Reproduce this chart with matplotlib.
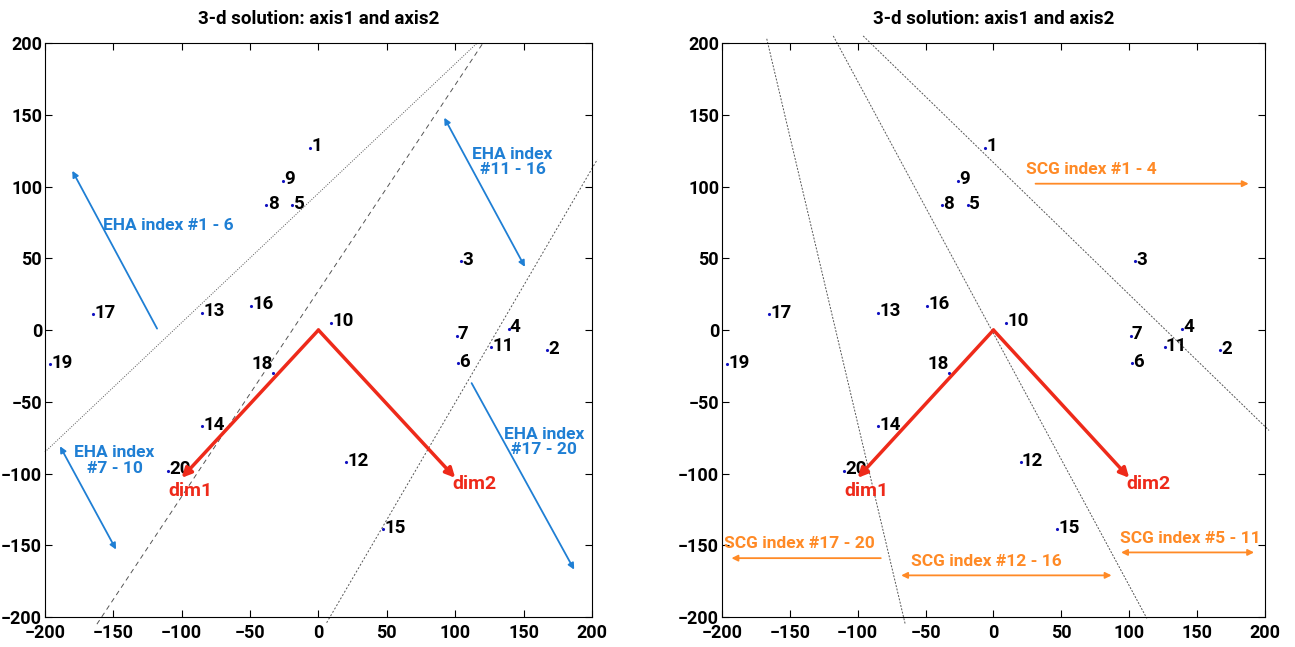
import matplotlib.pyplot as plt

# sample positions (same in both panels)
point_ids = [str(i) for i in range(1, 21)]
xs = [-6, 167, 104, 139, -19, 102, 101, -38, -26, 9,
      126, 20, -85, -85, 47, -49, -165, -33, -196, -110]
ys = [127, -14, 48, 1, 87, -23, -4, 87, 104, 5,
      -12, -92, 12, -67, -139, 17, 11, -30, -24, -98]

# loading vectors
dim_names = ['dim1', 'dim2']
dim_x = [-100, 100]
dim_y = [-103, -103]
dim_label_x = [-110, 98]
dim_label_y = [-112, -107]

# left panel: separating lines (x0, y0, x1, y1, style)
eha_lines = [(-200, -85, 116, 200, (0, (1, 1.5))),
             (-162, -205, 121, 201, (0, (5, 4))),
             (6, -204, 204, 119, (0, (2, 2)))]
# EHA arrows: start, end, double-headed?
eha_arrows = [((-118, 1), (-180, 111), False),
              ((92, 148), (151, 44), True),
              ((-189, -81), (-148, -153), True),
              ((112, -37), (187, -167), False)]
eha_labels = ['EHA index #1 - 6', 'EHA index\n#11 - 16', 'EHA index\n#7 - 10', 'EHA index\n#17 - 20']
eha_label_xy = [(-110, 73), (142, 117), (-149, -91), (165, -78)]

# right panel
scg_lines = [(-167, 203, -65, -205),
             (-118, 205, 113, -201),
             (-96, 205, 203, -70)]
scg_arrows = [((31, 102), (188, 102), False),
              ((-83, -159), (-193, -159), False),
              ((-68, -171), (87, -171), True),
              ((94, -155), (192, -155), True)]
scg_labels = ['SCG index #1 - 4', 'SCG index #17 - 20', 'SCG index #12 - 16', 'SCG index #5 - 11']
scg_label_xy = [(72, 112), (-143, -149), (-5, -161), (145, -145)]

BLUE = '#1f7fd4'
ORANGE = '#ff8a26'
RED = '#ee2a1a'

plt.rcParams['font.family'] = ['Roboto', 'DejaVu Sans']
plt.rcParams['font.weight'] = 'bold'


def draw_common(ax):
    ax.plot(xs, ys, '.', color='#1010c0', markersize=2.5, zorder=3)
    for pid, x, y in zip(point_ids, xs, ys):
        if pid == '18':
            ax.text(x, y, pid, ha='right', va='bottom', fontsize=13.5)
        else:
            ax.text(x + 1, y + 1, pid, ha='left', va='center', fontsize=13.5)
    for dx, dy in zip(dim_x, dim_y):
        ax.annotate('', xy=(dx, dy), xytext=(0, 0),
                    arrowprops=dict(arrowstyle='-|>', color=RED, lw=2.5,
                                    mutation_scale=14, shrinkA=0, shrinkB=0))
    for name, lx, ly in zip(dim_names, dim_label_x, dim_label_y):
        ax.text(lx, ly, name, color=RED, fontsize=14, ha='left', va='center')
    ax.set_xlim(-200, 200)
    ax.set_ylim(-200, 200)
    ax.set_xticks(range(-200, 201, 50))
    ax.set_yticks(range(-200, 201, 50))
    ax.tick_params(direction='in', top=True, right=True, labelsize=13, length=5)
    ax.tick_params(axis='y', pad=2)
    ax.tick_params(axis='x', pad=5)
    ax.set_title('3-d solution: axis1 and axis2', fontsize=13.5, fontweight='bold', pad=14)


def draw_arrows(ax, arrows, labels, label_xy, color):
    for (start, end, both), lab, (lx, ly) in zip(arrows, labels, label_xy):
        style = '<|-|>' if both else '-|>'
        ax.annotate('', xy=end, xytext=start,
                    arrowprops=dict(arrowstyle=style, color=color, lw=1.3,
                                    mutation_scale=9, shrinkA=0, shrinkB=0))
        ax.text(lx, ly, lab, color=color, fontsize=12.5, ha='center', va='center',
                linespacing=1.05)


fig = plt.figure(figsize=(12.95, 6.47), dpi=100)
ax1 = fig.add_axes([0.0347, 0.0464, 0.4224, 0.887])
ax2 = fig.add_axes([0.5575, 0.0464, 0.4193, 0.887])

draw_common(ax1)
for x0, y0, x1, y1, ls in eha_lines:
    ax1.plot([x0, x1], [y0, y1], color='#555555', lw=0.7, linestyle=ls, clip_on=False)
draw_arrows(ax1, eha_arrows, eha_labels, eha_label_xy, BLUE)

draw_common(ax2)
for x0, y0, x1, y1 in scg_lines:
    ax2.plot([x0, x1], [y0, y1], color='#555555', lw=0.7, linestyle=(0, (2, 1.5)), clip_on=False)
draw_arrows(ax2, scg_arrows, scg_labels, scg_label_xy, ORANGE)

fig.savefig('out.png', dpi=100)
